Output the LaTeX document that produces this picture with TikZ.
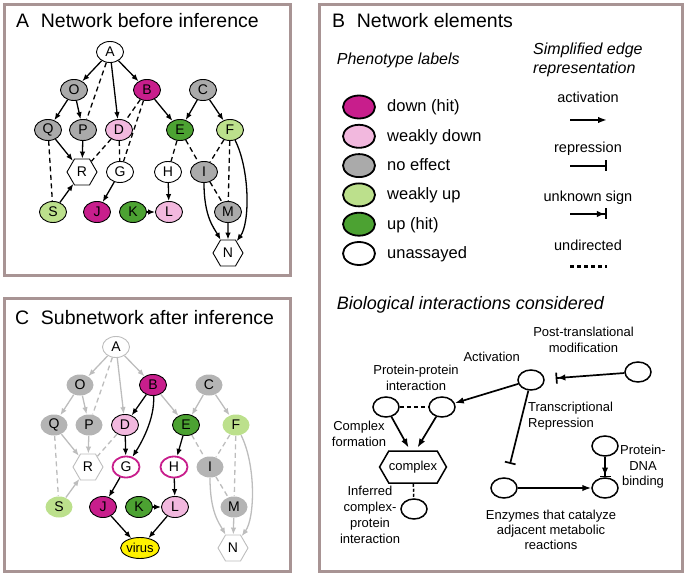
\documentclass[tikz,border=0pt]{standalone}
\usepackage{fontspec}
\setmainfont{Liberation Sans}
\usetikzlibrary{arrows.meta,shapes.geometric,shapes.symbols}

\definecolor{hitdown}{HTML}{C81E8C}
\definecolor{weakdown}{HTML}{F2B8DE}
\definecolor{noeffect}{HTML}{AAAAAA}
\definecolor{weakup}{HTML}{BCE08C}
\definecolor{uphit}{HTML}{4CA232}
\definecolor{framegray}{HTML}{A89494}
\definecolor{ghostgray}{HTML}{BDBDBD}
\definecolor{ghostfill}{HTML}{B4B4B4}

\tikzset{
	frame/.style={draw=framegray, line width=3pt},
	paneltitle/.style={anchor=base west, inner sep=0pt, font=\fontsize{19.5}{22}\selectfont},
	subtitle/.style={inner sep=0pt, font=\fontsize{16}{19}\selectfont\itshape},
	gene/.style={ellipse, draw, line width=0.9pt, minimum width=27pt, minimum height=21pt, inner sep=0pt, font=\fontsize{14}{14}\selectfont},
	hexnode/.style={signal, signal to=east and west, signal pointer angle=120, draw, line width=0.9pt, minimum width=30pt, minimum height=26pt, inner sep=0pt, font=\fontsize{14}{14}\selectfont},
	act/.style={-{Latex[length=7pt,width=5.5pt]}, line width=1.3pt},
	und/.style={line width=1.3pt, dash pattern=on 5pt off 3.5pt},
	ghost/.style={draw=ghostgray},
	legend/.style={ellipse, draw, line width=1.8pt, minimum width=32pt, minimum height=23pt, inner sep=0pt},
	leglab/.style={anchor=base west, inner sep=0pt, font=\fontsize{16.5}{18}\selectfont},
	edgelab/.style={anchor=base, inner sep=0pt, font=\fontsize{14.5}{16}\selectfont},
	prot/.style={ellipse, draw, line width=1.5pt, minimum width=26pt, minimum height=20pt, inner sep=0pt},
	note/.style={inner sep=0pt, align=center, font=\fontsize{13}{16}\selectfont},
	bigact/.style={-{Latex[length=9pt,width=6.5pt]}, line width=1.7pt},
	rep/.style={-{Bar[width=11pt]}, line width=1.7pt},
	unk/.style={-{Latex[length=8pt,width=6.5pt]Bar[width=11pt]}, line width=1.7pt},
	bigund/.style={line width=1.7pt, dash pattern=on 4pt off 3pt},
	sample/.style={line width=2.1pt}
}

\begin{document}
\begin{tikzpicture}[x=1pt,y=-1pt]
	\useasboundingbox (0,0) rectangle (688,577);
	\draw[frame] (4.5,4.5) rectangle (290,276);
	\draw[frame] (319.5,4.5) rectangle (682,571);
	\draw[frame] (4.5,299) rectangle (290,571);

	% A: network before inference
	\node[paneltitle] at (16,27.5) (titA) {A\hspace{0.6em}Network before inference};
	\node[gene, fill=white] at (110,52) (A1) {A};
	\node[gene, fill=noeffect] at (74,90) (O1) {O};
	\node[gene, fill=hitdown] at (147,90) (B1) {B};
	\node[gene, fill=noeffect] at (203,90) (C1) {C};
	\node[gene, fill=noeffect] at (48,130) (Q1) {Q};
	\node[gene, fill=noeffect] at (83,130) (P1) {P};
	\node[gene, fill=weakdown] at (119,130) (D1) {D};
	\node[gene, fill=uphit] at (180,130) (E1) {E};
	\node[gene, fill=weakup] at (230,130) (F1) {F};
	\node[hexnode, fill=white] at (82,172) (R1) {R};
	\node[gene, fill=white] at (120,172) (G1) {G};
	\node[gene, fill=white] at (168,172) (H1) {H};
	\node[gene, fill=noeffect] at (204,172) (I1) {I};
	\node[gene, fill=weakup] at (53,212) (S1) {S};
	\node[gene, fill=hitdown] at (97,212) (J1) {J};
	\node[gene, fill=uphit] at (133,212) (K1) {K};
	\node[gene, fill=weakdown] at (169,212) (L1) {L};
	\node[gene, fill=noeffect] at (228,212) (M1) {M};
	\node[hexnode, fill=white] at (228,253) (N1) {N};
	\path (A1) edge[act] (O1)
	(A1) edge[und] (P1)
	(A1) edge[act] (D1)
	(A1) edge[act] (B1)
	(O1) edge[act] (Q1)
	(O1) edge[act] (P1)
	(B1) edge[und] (D1)
	(B1) edge[und] (G1)
	(B1) edge[act] (E1)
	(C1) edge[act] (E1)
	(C1) edge[act] (F1)
	(Q1) edge[act] (R1)
	(P1) edge[act] (R1)
	(D1) edge[und] (R1)
	(Q1) edge[und] (S1)
	(S1) edge[act] (R1)
	(D1) edge[und] (G1)
	(G1) edge[act] (J1)
	(E1) edge[und] (H1)
	(E1) edge[und] (I1)
	(F1) edge[und] (I1)
	(F1) edge[und] (M1)
	(H1) edge[act] (L1)
	(K1) edge[act] (L1)
	(I1) edge[und] (M1)
	(M1) edge[act] (N1);
	\draw[act] (F1) .. controls +(20,40) and +(22,-30) .. (N1);
	\draw[act] (I1) .. controls +(0,45) and +(-14,-25) .. (N1);

	% C: subnetwork after inference
	\node[paneltitle] at (15,324) (titC) {C\hspace{0.6em}Subnetwork after inference};
	\begin{scope}[shift={(6,295)}]
	\node[gene, draw=ghostgray, fill=white] at (110,52) (A2) {A};
	\node[gene, draw=none, fill=ghostfill] at (74,90) (O2) {O};
	\node[gene, fill=hitdown] at (147,90) (B2) {B};
	\node[gene, draw=none, fill=ghostfill] at (203,90) (C2) {C};
	\node[gene, draw=none, fill=ghostfill] at (48,130) (Q2) {Q};
	\node[gene, draw=none, fill=ghostfill] at (83,130) (P2) {P};
	\node[gene, fill=weakdown] at (119,130) (D2) {D};
	\node[gene, fill=uphit] at (180,130) (E2) {E};
	\node[gene, draw=none, fill=weakup] at (230,130) (F2) {F};
	\node[hexnode, draw=ghostgray, fill=white] at (82,172) (R2) {R};
	\node[gene, draw=hitdown, line width=1.8pt, fill=white] at (120,172) (G2) {G};
	\node[gene, draw=hitdown, line width=1.8pt, fill=white] at (168,172) (H2) {H};
	\node[gene, draw=none, fill=ghostfill] at (204,172) (I2) {I};
	\node[gene, draw=none, fill=weakup] at (53,212) (S2) {S};
	\node[gene, fill=hitdown] at (97,212) (J2) {J};
	\node[gene, fill=uphit] at (133,212) (K2) {K};
	\node[gene, fill=weakdown] at (169,212) (L2) {L};
	\node[gene, draw=none, fill=ghostfill] at (228,212) (M2) {M};
	\node[hexnode, draw=ghostgray, fill=white] at (227,253) (N2) {N};
	\node[gene, fill=yellow, minimum width=38pt, font=\fontsize{13}{13}\selectfont] at (134,253) (virus) {virus};
	\path (A2) edge[act,ghost] (O2)
	(A2) edge[und,ghost] (P2)
	(A2) edge[act,ghost] (D2)
	(A2) edge[act,ghost] (B2)
	(O2) edge[act,ghost] (Q2)
	(O2) edge[act,ghost] (P2)
	(B2) edge[act,ghost] (E2)
	(C2) edge[act,ghost] (E2)
	(C2) edge[act,ghost] (F2)
	(Q2) edge[act,ghost] (R2)
	(P2) edge[act,ghost] (R2)
	(D2) edge[und,ghost] (R2)
	(Q2) edge[und,ghost] (S2)
	(S2) edge[act,ghost] (R2)
	(E2) edge[und,ghost] (I2)
	(F2) edge[und,ghost] (I2)
	(F2) edge[und,ghost] (M2)
	(I2) edge[und,ghost] (M2)
	(M2) edge[act,ghost] (N2);
	\draw[act,ghost] (F2) .. controls +(20,40) and +(22,-30) .. (N2);
	\draw[act,ghost] (I2) .. controls +(0,45) and +(-14,-25) .. (N2);
	\path (B2) edge[act] (D2)
	(D2) edge[act] (G2)
	(G2) edge[act] (J2)
	(E2) edge[act] (H2)
	(H2) edge[act] (L2)
	(K2) edge[act] (L2)
	(J2) edge[act] (virus)
	(L2) edge[act] (virus);
	\draw[act] (B2) .. controls +(2,35) and +(14,-22) .. (G2);
	\end{scope}

	% B: network elements
	\node[paneltitle] at (332,27.5) (titB) {B\hspace{0.6em}Network elements};
	\node[subtitle, anchor=base west] at (336.7,64.5) (pheno) {Phenotype labels};
	\node[subtitle, anchor=west, align=left] at (533,60) (simple) {Simplified edge\\representation};
	\node[legend, fill=hitdown] at (359,107) (lgDown) {};
	\node[legend, fill=weakdown] at (359,136.3) (lgWeakDown) {};
	\node[legend, fill=noeffect] at (359,165.6) (lgNone) {};
	\node[legend, fill=weakup] at (359,194.9) (lgWeakUp) {};
	\node[legend, fill=uphit] at (359,224.2) (lgUp) {};
	\node[legend, fill=white] at (359,253.5) (lgUnknown) {};
	\node[leglab] at (387,112) (lbDown) {down (hit)};
	\node[leglab] at (387,141.3) (lbWeakDown) {weakly down};
	\node[leglab] at (387,170.6) (lbNone) {no effect};
	\node[leglab] at (387,199.9) (lbWeakUp) {weakly up};
	\node[leglab] at (387,229.2) (lbUp) {up (hit)};
	\node[leglab] at (387,258.5) (lbUnknown) {unassayed};
	\node[edgelab] at (588,102.7) (lbAct) {activation};
	\node[edgelab] at (588,152.7) (lbRep) {repression};
	\node[edgelab] at (588,201.7) (lbUnk) {unknown sign};
	\node[edgelab] at (588,251) (lbUnd) {undirected};
	\coordinate (actA) at (570,120);
	\coordinate (actB) at (607,120);
	\coordinate (repA) at (570,166);
	\coordinate (repB) at (607,166);
	\coordinate (unkA) at (570,214);
	\coordinate (unkB) at (607,214);
	\coordinate (undA) at (570,266.5);
	\coordinate (undB) at (607,266.5);
	\draw[bigact, sample] (actA) -- (actB);
	\draw[rep, sample] (repA) -- (repB);
	\draw[unk, sample] (unkA) -- (unkB);
	\draw[bigund, sample] (undA) -- (undB);

	% biological interactions
	\node[inner sep=0pt, anchor=base west, font=\fontsize{18}{20}\selectfont\itshape] at (336.7,310) (bio) {Biological interactions considered};
	\node[note] at (583.5,340) (lbPtm) {Post-translational\\modification};
	\node[note, anchor=base] at (491.7,361.7) (lbActv) {Activation};
	\node[note] at (416,377.8) (lbPpi) {Protein-protein\\interaction};
	\node[note, anchor=west, align=left] at (528,416.3) (lbTrans) {Transcriptional\\Repression};
	\node[note] at (359,433.6) (lbForm) {Complex\\formation};
	\node[note] at (370,514.4) (lbInf) {Inferred\\complex-\\protein\\interaction};
	\node[note, font=\fontsize{13}{15}\selectfont] at (551,530.3) (lbEnz) {Enzymes that catalyze\\adjacent metabolic\\reactions};
	\node[note, font=\fontsize{13}{15.5}\selectfont] at (643,467) (lbDna) {Protein-\\DNA\\binding};
	\node[prot] at (638,372) (ptm) {};
	\node[prot] at (531,380) (actv) {};
	\node[prot] at (386,407) (ppiL) {};
	\node[prot] at (442,407) (ppiR) {};
	\node[hexnode, minimum width=60pt, minimum height=32pt, line width=1.5pt, font=\fontsize{13}{13}\selectfont] at (413,467) (cpx) {complex};
	\node[prot] at (414,509) (inf) {};
	\node[prot] at (504,488) (enzL) {};
	\node[prot] at (605,488) (enzR) {};
	\node[prot] at (605,446) (dna) {};
	\draw[unk, shorten >=11pt] (ptm) -- (actv);
	\draw[bigact] (actv) -- (ppiR);
	\draw[bigund] (ppiL) -- (ppiR);
	\draw[bigact, shorten >=3pt] (ppiL) -- (cpx.100);
	\draw[bigact, shorten >=3pt] (ppiR) -- (cpx.80);
	\draw[line width=1.5pt, dash pattern=on 3pt off 2pt] (cpx) -- (inf);
	\draw[rep, shorten >=14pt] (actv) -- (enzL);
	\draw[bigact] (enzL) -- (enzR);
	\draw[unk] (dna) -- (enzR);
\end{tikzpicture}
\end{document}
